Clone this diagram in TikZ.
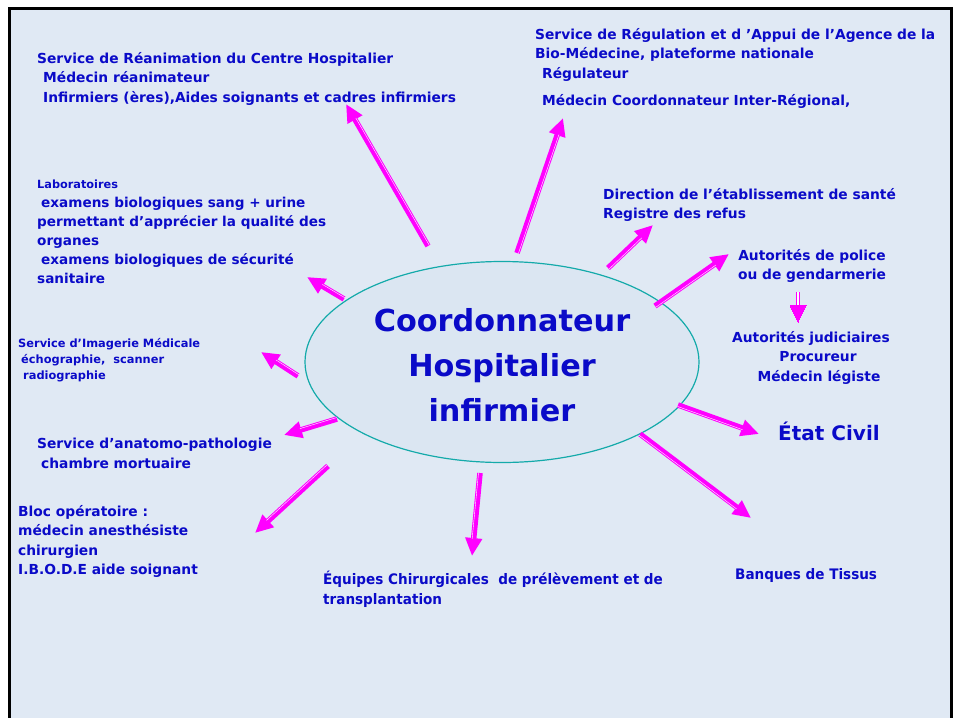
\documentclass[tikz,border=0pt]{standalone}
\usepackage{fontspec}
\setmainfont{DejaVu Sans}
\newfontfamily\condfont[FakeStretch=0.935]{DejaVu Sans}
\usetikzlibrary{arrows.meta,calc,shapes.geometric}
\definecolor{bgblue}{RGB}{224,233,244}
\definecolor{ellfill}{RGB}{219,230,242}
\definecolor{ellline}{RGB}{20,170,170}
\definecolor{txtblue}{RGB}{10,10,200}
\definecolor{mag}{RGB}{255,0,255}
\newcommand\magarrow[2]{%
  \draw[marrow] (#1) -- (#2);
  \draw[mhl] ($(#1)!1.5pt!-90:(#2)$) -- ($($(#2)!17pt!(#1)$)!1.5pt!90:(#1)$);
}
\tikzset{
  marrow/.style={draw=mag, line width=5.5pt, -{Triangle[length=18pt,width=16pt]}},
  mhl/.style={draw=white, line width=0.4pt},
  lbl/.style={text=txtblue, font=\bfseries\fontsize{13.8}{19.5}\selectfont, align=left, anchor=north west, inner sep=0pt},
  smalltxt/.style={font=\bfseries\fontsize{11.4}{16}\selectfont},
  condtxt/.style={font=\condfont\bfseries\fontsize{14.5}{20}\selectfont},
}
\begin{document}
\begin{tikzpicture}[x=1pt,y=-1pt]
\useasboundingbox (0,0) rectangle (954,718);
\fill[white] (0,0) rectangle (954,718);
\fill[bgblue] (9,8.5) rectangle (951,718);
\draw[line width=3pt, black] (9,718) -- (9,8.5) -- (951,8.5) -- (951,718);

% central ellipse
\node[ellipse, draw=ellline, line width=1.2pt, fill=ellfill, minimum width=394pt, minimum height=201pt, inner sep=0pt,
      text=txtblue, align=center, font=\bfseries\fontsize{30.3}{45}\selectfont] (coord) at (502,362)
      {\rule{0pt}{29pt}Coordonnateur\\Hospitalier\\infirmier};

% text blocks
\node[lbl] (rea) at (37,52) {Service de Réanimation du Centre Hospitalier\\\hspace*{6pt}Médecin réanimateur\\\hspace*{6pt}Infirmiers (ères),Aides soignants et cadres infirmiers};
\node[lbl] (reg) at (535,28) {Service de Régulation et d 'Appui de l’Agence de la\\Bio-Médecine, plateforme nationale\\\hspace*{7pt}Régulateur\\[8pt]\hspace*{7pt}Médecin Coordonnateur Inter-Régional,};
\node[lbl] (dir) at (603,188) {Direction de l’établissement de santé\\Registre des refus};
\node[lbl, align=center, anchor=north] (pol) at (812,249) {Autorités de police\\ou de gendarmerie};
\node[lbl, align=center, anchor=north] (jud) at (811,331) {Autorités judiciaires\\\hspace*{14pt}Procureur\\\hspace*{16pt}Médecin légiste};
\node[lbl, font=\bfseries\fontsize{20}{24}\selectfont] (etat) at (778,422) {État Civil};
\node[lbl, condtxt] (banq) at (735,568) {Banques de Tissus};
\node[lbl, condtxt] (equ) at (323,571) {Équipes Chirurgicales \ de prélèvement et de\\transplantation};
\node[lbl] (bloc) at (18,505) {Bloc opératoire :\\médecin anesthésiste\\chirurgien\\I.B.O.D.E aide soignant};
\node[lbl] (anat) at (37,438) {Service d’anatomo-pathologie\\\hspace*{4pt}chambre mortuaire};
\node[lbl, smalltxt] (imag) at (18,338) {Service d’Imagerie Médicale\\\hspace*{3pt}échographie, \ scanner\\\hspace*{5pt}radiographie};
\node[lbl, font=\bfseries\fontsize{13.6}{19}\selectfont] (lab) at (37,180) {{\fontsize{11.3}{19}\selectfont Laboratoires}\\\hspace*{4pt}examens biologiques sang + urine\\permettant d’apprécier la qualité des\\organes\\\hspace*{4pt}examens biologiques de sécurité\\sanitaire};

% arrow end points
\coordinate (t1) at (428,246);  \coordinate (h1) at (346,104);
\coordinate (t2) at (517,253);  \coordinate (h2) at (563,118);
\coordinate (t3) at (608,268);  \coordinate (h3) at (653,225);
\coordinate (t4) at (655,306);  \coordinate (h4) at (729,254);
\coordinate (t5) at (798,292);  \coordinate (h5) at (798,322);
\coordinate (t6) at (678,405);  \coordinate (h6) at (759,434);
\coordinate (t7) at (640,434);  \coordinate (h7) at (751,518);
\coordinate (t8) at (480,473);  \coordinate (h8) at (472,556);
\coordinate (t9) at (328,466);  \coordinate (h9) at (255,533);
\coordinate (t10) at (337,419); \coordinate (h10) at (284,435);
\coordinate (t11) at (298,376); \coordinate (h11) at (261,352);
\coordinate (t12) at (344,299); \coordinate (h12) at (307,277);

\magarrow{t1}{h1}
\magarrow{t2}{h2}
\magarrow{t3}{h3}
\magarrow{t4}{h4}
\draw[draw=mag, line width=1.8pt, double=white, double distance=1.2pt] (t5) -- ($(h5)+(0,-16)$);
\draw[draw=mag, line width=0pt, fill=mag] ($(h5)+(-8,-17)$) -- (h5) -- ($(h5)+(8,-17)$) -- cycle;
\magarrow{t6}{h6}
\magarrow{t7}{h7}
\magarrow{t8}{h8}
\magarrow{t9}{h9}
\magarrow{t10}{h10}
\magarrow{t11}{h11}
\magarrow{t12}{h12}
\end{tikzpicture}
\end{document}
